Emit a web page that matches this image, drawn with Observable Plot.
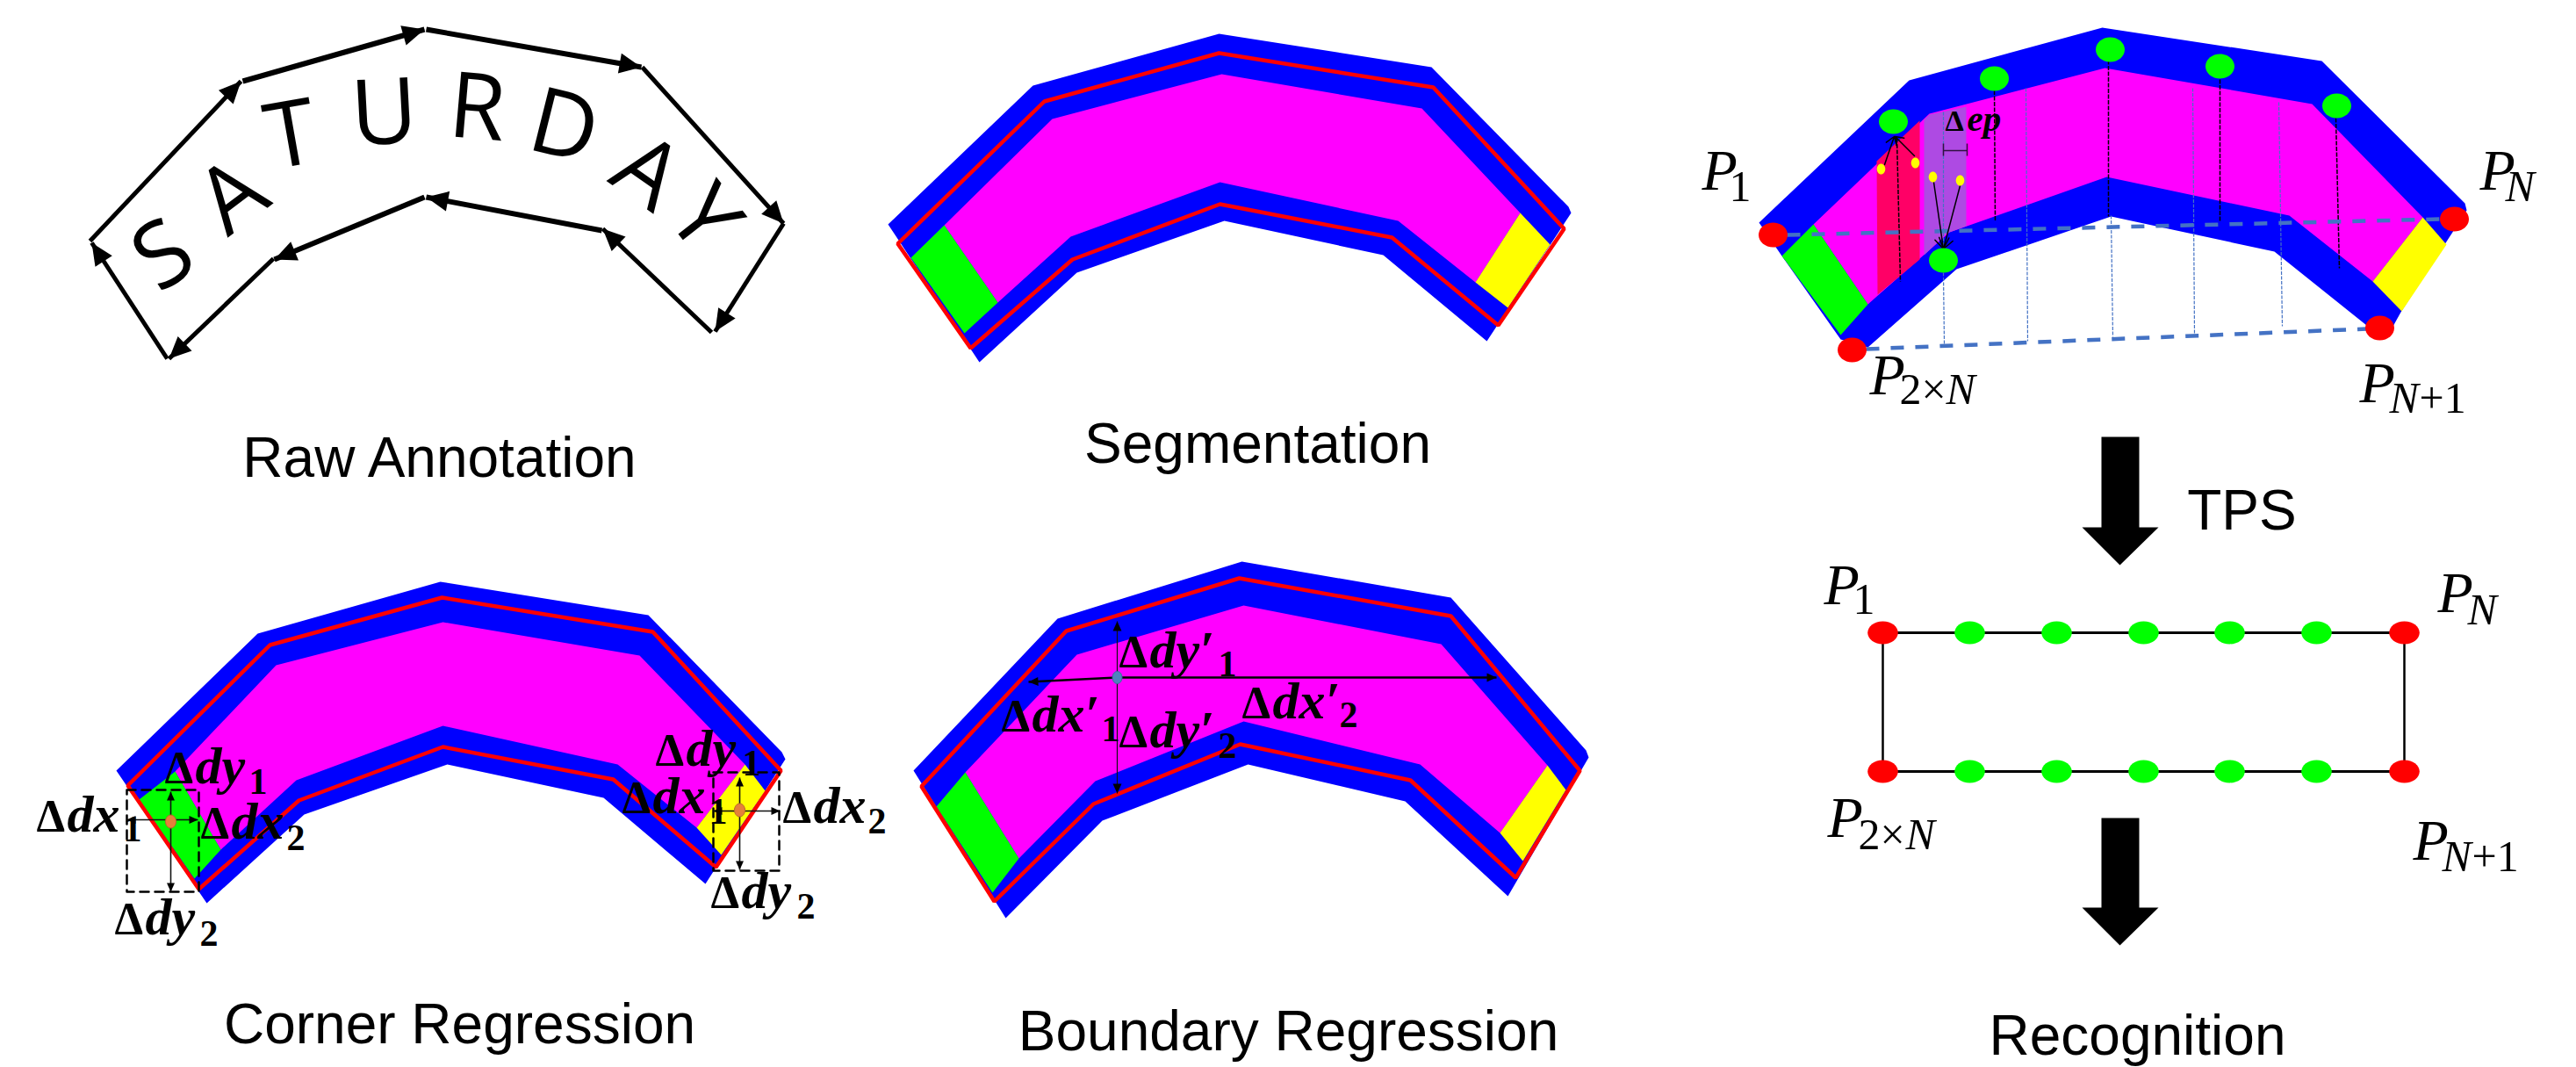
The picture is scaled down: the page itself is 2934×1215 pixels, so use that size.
<!DOCTYPE html>
<html><head><meta charset="utf-8">
<style>html,body{margin:0;padding:0;background:#fff;overflow:hidden}svg{display:block;max-width:none!important}</style>
<script src="https://cdn.jsdelivr.net/npm/d3@7"></script>
<script src="https://cdn.jsdelivr.net/npm/@observablehq/plot@0.6"></script>
</head><body><div id="chart"></div>
<script>
const BLUE="#0000ff",MAG="#ff00ff",GREEN="#00ff00",YELLOW="#ffff00",RED="#ff0000",DASHBLUE="#4472c4";
const SANS="Liberation Sans",SERIF="Liberation Serif";

// ---- Raw annotation
const rawArrows=[[102,274,274,92,5],[276,92,483,33,6],[485,33,730,76,6],[731,76,892,254,5],[892,254,814,377,5],
 [810,378,686,260,5],[685,262,485,224,6],[483,224,312,295,6],[311,294,192,408,5],[190,408,104,276,5]];
const saturdayLetters=["S","A","T","U","R","D","A","Y"];
const saturdayX=[186,265,331,437,543,642,736,801];
const saturdayY=[291,224,155,130,124,145,197,249];
const saturdayRotate=[-33,-37,-10,-3,5,14,35,52];

// ---- Segmentation
const segBlue=[[1011,255],[1176,97],[1388,38],[1630,76],[1786,235],[1789,242],[1693,388],[1575,290],[1394,251],[1226,310],[1115,412]];
const segMagenta=[[1075,256],[1198,135],[1391,84],[1619,123],[1731,242],[1680,321],[1592,251],[1389,207],[1219,269],[1136,344]];
const segGreen=[[1075,256],[1136,344],[1098,379],[1037,293]];
const segYellow=[[1731,242],[1765,278],[1717,350],[1680,321]];
const segRed=[[1022,277],[1189,115],[1388,60],[1632,99],[1781,260],[1706,370],[1585,270],[1389,232],[1221,295],[1105,396]];

// ---- Corner regression
const corBlue=[[132,877],[293,721],[501,662],[738,700],[890,856],[894,864],[803,1006],[687,908],[509,870],[346,927],[235,1028]];
const corMagenta=[[199,878],[314,757],[504,708],[728,746],[848,870],[793,942],[703,870],[504,826],[337,888],[251,967]];
const corGreen=[[199,878],[251,967],[221,1000],[158,910]];
const corYellow=[[848,870],[871,900],[821,973],[793,942]];
const corRed=[[145,894],[307,734],[503,680],[743,719],[889,877],[815,987],[698,887],[504,850],[340,911],[226,1012]];
const corBoxes=[[144,899,226,1015],[812,879,887,991]];
const corCenters=[[194,935],[842,922]];
const corArrows=[[194,935,194,901],[194,935,194,1015],[194,933,144,933],[194,933,225,933],
 [842,922,842,885],[842,922,842,990],[842,923,812,923],[842,923,888,923]];
const corLabels=[
 {x:187,y:891,w:"dy",s:"1",sx:283,sy:903},{x:41,y:946,w:"dx",s:"1",sx:140,sy:957},
 {x:228,y:954,w:"dx",s:"2",sx:326,sy:967},{x:130,y:1063,w:"dy",s:"2",sx:227,sy:1076},
 {x:746,y:871,w:"dy",s:"1",sx:845,sy:882},{x:708,y:925,w:"dx",s:"1",sx:807,sy:937},
 {x:891,y:936,w:"dx",s:"2",sx:988,sy:948},{x:809,y:1033,w:"dy",s:"2",sx:907,sy:1045}];

// ---- Boundary regression
const bouBlue=[[1040,877],[1204,704],[1414,639],[1652,680],[1806,854],[1809,862],[1717,1020],[1600,912],[1421,870],[1255,934],[1145,1045]];
const bouMagenta=[[1099,879],[1226,745],[1416,689],[1641,733],[1762,871],[1708,948],[1617,870],[1416,821],[1247,889],[1160,977]];
const bouGreen=[[1099,879],[1160,977],[1130,1016],[1066,918]];
const bouYellow=[[1762,871],[1783,899],[1734,980],[1708,948]];
const bouRed=[[1049,895],[1214,718],[1411,658],[1652,701],[1799,877],[1726,999],[1606,888],[1412,847],[1245,915],[1132,1026]];
const bouThin=[[1272,771,1272,707],[1272,771,1272,903]];
const bouThick=[[1272,771,1171,776],[1272,771,1704,771]];
const bouCenter=[[1272,771]];
const bouLabels=[
 {x:1274,y:759,w:"dy′",s:"1",sx:1387,sy:769},{x:1140,y:832,w:"dx′",s:"1",sx:1254,sy:843},
 {x:1274,y:850,w:"dy′",s:"2",sx:1387,sy:862},{x:1414,y:817,w:"dx′",s:"2",sx:1525,sy:827}];

// ---- TPS source
const tpsBlue=[[2003,253],[2174,91],[2394,31],[2644,69],[2807,231],[2809,239],[2734,355],[2724,373],[2695,370],[2590,286],[2404,246],[2228,306],[2127,395],[2096,386],[2029,291]];
const tpsMagenta=[[2065,255],[2197,129],[2397,77],[2633,118],[2759,247],[2702,320],[2607,245],[2399,201],[2220,264],[2127,346]];
const tpsGreen=[[2065,255],[2127,346],[2096,381],[2029,291]];
const tpsYellow=[[2759,247],[2786,278],[2735,354],[2702,320]];
const tpsPink=[[2137,183],[2186,137],[2186,295],[2138,335]];
const tpsPurple=[[2191,136],[2197,130],[2239,121],[2239,257],[2217,265],[2191,290]];
const tpsGreenDots=[[2156,138],[2271,89],[2403,56],[2528,75],[2661,120],[2213,296]];
const tpsRedDots=[[2019,267],[2795,249],[2710,373],[2109,398]];
const tpsYellowDots=[[2142,192],[2181,185],[2201,201],[2232,205]];
const tpsOpenArrows=[[2146,187,2157,155],[2180,177,2158,155],[2202,207,2213,283],[2232,211,2213,283]];
const tpsBlackDash=[[2160,157,2164,320],[2271,96,2272,251],[2401,68,2401,246],[2528,90,2528,251],[2660,134,2664,305]];
const tpsBlueThin=[[2213,127,2213,283],[2213,310,2214,391],[2307,100,2309,388],[2404,245,2406,383],[2497,100,2499,380],[2595,116,2599,371]];
const tpsBlueThick=[[2035,267,2780,249],[2125,397,2695,374]];
const tpsBracket=[[2213,171,2240,171],[2213,163,2213,177],[2240,163,2240,177]];

// ---- Rectified rectangle
const rectLines=[[2144,720,2738,720],[2144,878,2738,878]];
const rectSides=[[2144,720,2144,878],[2738,720,2738,878]];
const rectRedX=[2144,2738],rectGreenX=[2243,2342,2441,2539,2638],rectRowY=[720,878];

// ---- Big arrows
const bigArrowTop=[[2393,497],[2436,497],[2436,600],[2458,600],[2414,643],[2371,600],[2393,600]];
const bigArrowBottom=[[2393,931],[2436,931],[2436,1033],[2458,1033],[2414,1076],[2371,1033],[2393,1033]];

// ---- Text
const captions=[["Raw Annotation",500,542],["Segmentation",1432,526],["Corner Regression",523,1187],
 ["Boundary Regression",1467,1195],["TPS",2553,602],["Recognition",2434,1200]];
const pItalic=[["P",1938,215],["P",2824,215],["P",2129,448],["P",2687,457],["P",2077,687],["P",2776,696],["P",2081,952],["P",2748,978]];
const subItalic=[["N",2853,228],["N",2216,459],["N",2721,469],["N",2810,710],["N",2170,966],["N",2781,991]];
const subUpright=[["1",1969,228],["2×",2163,459],["+1",2755,469],["1",2110,698],["2×",2116,966],["+1",2815,991]];

// ---- helpers that turn the lists above into marks
const px=d=>d[0],py=d=>d[1];
const fillPoly=(pts,fill)=>Plot.line(pts,{x:px,y:py,fill,stroke:"none",curve:"linear-closed"});
const outline=(pts,w=4.5)=>Plot.line(pts,{x:px,y:py,stroke:RED,strokeWidth:w,curve:"linear-closed",strokeLinejoin:"miter"});
const seg=(rows,o)=>Plot.link(rows,{x1:d=>d[0],y1:d=>d[1],x2:d=>d[2],y2:d=>d[3],...o});
const ellipse=(rx,ry)=>({draw(c,size){const r=Math.sqrt(size/Math.PI),k=.5523,a=rx*r,b=ry*r;
 c.moveTo(a,0);c.bezierCurveTo(a,k*b,k*a,b,0,b);c.bezierCurveTo(-k*a,b,-a,k*b,-a,0);
 c.bezierCurveTo(-a,-k*b,-k*a,-b,0,-b);c.bezierCurveTo(k*a,-b,a,-k*b,a,0);c.closePath();}});
const dots=(pts,o)=>Plot.dot(pts,{x:px,y:py,r:1,...o});
const head=([x1,y1,x2,y2],len,wid)=>{const L=Math.hypot(x2-x1,y2-y1),ux=(x2-x1)/L,uy=(y2-y1)/L;
 return [[x2,y2],[x2-ux*len-uy*wid/2,y2-uy*len+ux*wid/2],[x2-ux*len+uy*wid/2,y2-uy*len-ux*wid/2]];};
const heads=(rows,len,wid)=>rows.map(r=>fillPoly(head(r,len,wid),"#000"));
const txt=(rows,{size,family=SANS,weight="normal",style="normal",anchor="start"})=>Plot.text(rows,{
 text:d=>d[0],x:d=>d[1],y:d=>d[2],fontSize:size,fontFamily:family,fontWeight:weight,fontStyle:style,
 textAnchor:anchor,lineAnchor:"middle",dy:-0.32*size,fill:"#000"});
const deltaLabels=(labels)=>[
 txt(labels.map(l=>["Δ",l.x,l.y]),{size:52,family:SERIF,weight:"bold"}),
 txt(labels.map(l=>[l.w,l.x+35,l.y]),{size:60,family:SERIF,weight:"bold",style:"italic"}),
 txt(labels.map(l=>[l.s,l.sx,l.sy]),{size:42,family:SERIF,weight:"bold"})];
const panel=(b,m,g,y,r)=>[fillPoly(b,BLUE),fillPoly(m,MAG),fillPoly(g,GREEN),fillPoly(y,YELLOW),outline(r)];
const boxes=corBoxes.map(([a,b,c,d])=>[[a,b],[c,b],[c,d],[a,d]]);

const chart=Plot.plot({
 width:2934,height:1215,margin:0,
 x:{domain:[0,2934],range:[0,2934],axis:null},
 y:{domain:[0,1215],range:[0,1215],axis:null},
 style:{background:"#fff"},
 marks:[
  // Raw annotation
  ...rawArrows.map(a=>seg([a],{stroke:"#000",strokeWidth:a[4]})),
  ...heads(rawArrows,25,23),
  Plot.text(saturdayLetters,{text:d=>d,x:(d,i)=>saturdayX[i],y:(d,i)=>saturdayY[i],rotate:(d,i)=>saturdayRotate[i],
   fontSize:104,fontFamily:"Open Sans",fill:"#000"}),
  // Segmentation
  ...panel(segBlue,segMagenta,segGreen,segYellow,segRed),
  // Corner regression
  ...panel(corBlue,corMagenta,corGreen,corYellow,corRed),
  ...boxes.map(b=>Plot.line(b,{x:px,y:py,stroke:"#000",strokeWidth:2.5,strokeDasharray:"10 7",curve:"linear-closed"})),
  seg(corArrows,{stroke:"#111",strokeWidth:1.6}),
  ...heads(corArrows,10,9),
  dots(corCenters,{symbol:ellipse(6,7.5),fill:"#e5803a",stroke:"#b5652c",strokeWidth:1}),
  ...deltaLabels(corLabels),
  // Boundary regression
  ...panel(bouBlue,bouMagenta,bouGreen,bouYellow,bouRed),
  seg(bouThin,{stroke:"#111",strokeWidth:1.2}),
  seg(bouThick,{stroke:"#000",strokeWidth:2.6}),
  ...heads([...bouThin,...bouThick],11,10),
  dots(bouCenter,{symbol:ellipse(5.5,7),fill:"#4f81bd",stroke:"#3a6a9e",strokeWidth:1}),
  ...deltaLabels(bouLabels),
  // TPS source
  fillPoly(tpsBlue,BLUE),fillPoly(tpsMagenta,MAG),fillPoly(tpsGreen,GREEN),fillPoly(tpsYellow,YELLOW),
  fillPoly(tpsPink,"#ff0066"),fillPoly(tpsPurple,"#ae4ae3"),
  seg(tpsBlueThin,{stroke:DASHBLUE,strokeWidth:1.2,strokeDasharray:"4 1.5"}),
  seg(tpsBlackDash,{stroke:"#000",strokeWidth:1.5,strokeDasharray:"5 1.5"}),
  seg(tpsBlueThick,{stroke:DASHBLUE,strokeWidth:4.5,strokeDasharray:"15 13"}),
  seg(tpsBracket,{stroke:"#301040",strokeWidth:1.5}),
  Plot.arrow(tpsOpenArrows,{x1:d=>d[0],y1:d=>d[1],x2:d=>d[2],y2:d=>d[3],bend:0,stroke:"#000",strokeWidth:1.5,headLength:14,headAngle:70}),
  dots(tpsGreenDots,{symbol:ellipse(16.5,14),fill:GREEN}),
  dots(tpsRedDots,{symbol:ellipse(16.5,14),fill:RED}),
  dots(tpsYellowDots,{symbol:ellipse(4.8,6),fill:YELLOW}),
  txt([["Δ",2215,148]],{size:34,family:SERIF,weight:"bold"}),
  txt([["ep",2240,148]],{size:41,family:SERIF,weight:"bold",style:"italic"}),
  // Rectangle
  seg(rectLines,{stroke:"#000",strokeWidth:3}),
  seg(rectSides,{stroke:"#000",strokeWidth:2.5}),
  ...rectRowY.map(y=>dots(rectGreenX.map(x=>[x,y]),{symbol:ellipse(17.3,13),fill:GREEN})),
  ...rectRowY.map(y=>dots(rectRedX.map(x=>[x,y]),{symbol:ellipse(17.3,13),fill:RED})),
  // Big arrows
  fillPoly(bigArrowTop,"#000"),fillPoly(bigArrowBottom,"#000"),
  // Text
  txt(captions,{size:64,anchor:"middle"}),
  txt(pItalic,{size:66,family:SERIF,style:"italic"}),
  txt(subItalic,{size:50,family:SERIF,style:"italic"}),
  txt(subUpright,{size:50,family:SERIF})
 ]
});
document.getElementById("chart").append(chart);
</script></body></html>
